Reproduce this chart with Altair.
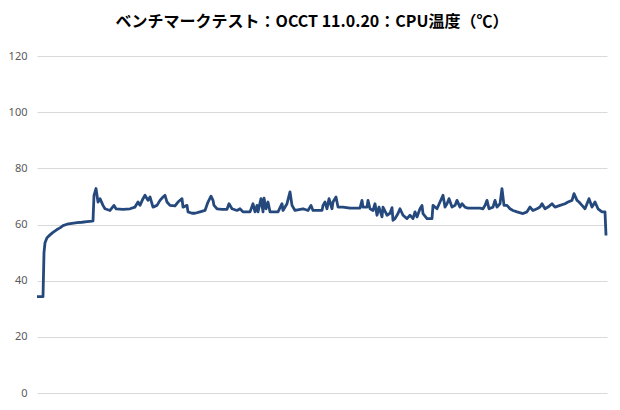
import altair as alt
import pandas as pd

# elapsed sample index and CPU temperature (°C)
sample = [0, 6, 7, 8, 10, 13, 16, 20, 23, 26, 30, 35, 40, 45, 50, 55, 56, 57, 59, 61,
          63, 66, 68, 73, 77, 79, 86, 93, 98, 101, 103, 106, 108, 111, 113, 116, 120, 123, 126, 128,
          130, 133, 138, 141, 145, 146, 150, 151, 155, 158, 163, 168, 171, 174, 176, 177, 180, 185, 190, 192,
          195, 200, 203, 206, 213, 216, 218, 220, 221, 224, 226, 227, 229, 231, 233, 241, 245, 246, 250, 253,
          255, 258, 266, 271, 274, 276, 285, 286, 288, 290, 292, 295, 296, 299, 301, 306, 313, 320, 323, 325,
          326, 330, 331, 333, 336, 338, 340, 342, 345, 346, 350, 353, 355, 356, 358, 361, 363, 366, 370, 373,
          376, 378, 380, 383, 385, 386, 390, 395, 396, 400, 403, 406, 408, 410, 412, 415, 418, 420, 423, 425,
          428, 431, 436, 443, 446, 448, 450, 452, 456, 458, 460, 463, 465, 467, 470, 473, 476, 480, 486, 490,
          493, 496, 500, 503, 505, 508, 511, 515, 518, 523, 528, 531, 535, 537, 540, 542, 545, 548, 552, 555,
          558, 561, 565, 568, 569]
temp = [34.3, 34.3, 50.0, 53.5, 55.3, 56.3, 57.2, 58.2, 58.8, 59.6, 60.1, 60.4, 60.7, 60.8, 61.0, 61.2, 61.3, 70.4, 72.8, 68.0,
        69.2, 66.8, 65.6, 65.0, 66.8, 65.6, 65.4, 65.6, 66.2, 68.0, 66.8, 69.2, 70.4, 68.6, 69.8, 66.2, 66.8, 68.6, 69.8, 70.4,
        68.0, 66.8, 66.6, 68.0, 69.2, 66.2, 66.8, 64.5, 64.0, 64.0, 64.5, 65.0, 68.0, 70.1, 68.6, 66.8, 65.6, 65.4, 65.4, 67.4,
        65.6, 65.0, 65.6, 64.5, 64.5, 67.4, 64.5, 66.8, 64.5, 69.2, 64.5, 69.4, 65.6, 68.0, 64.5, 64.5, 67.4, 65.0, 67.4, 71.6,
        66.8, 65.0, 65.6, 65.0, 66.8, 65.0, 65.0, 66.8, 68.0, 65.6, 69.2, 65.6, 68.0, 69.8, 66.2, 66.2, 65.8, 65.8, 65.8, 68.6,
        66.2, 66.2, 68.6, 65.6, 65.0, 67.4, 63.3, 66.2, 62.7, 66.2, 63.3, 64.0, 66.0, 61.5, 62.1, 63.9, 65.6, 63.3, 62.1, 63.3,
        62.1, 64.5, 62.7, 65.6, 66.8, 63.9, 62.1, 62.1, 66.8, 65.6, 68.0, 70.4, 66.2, 67.4, 69.2, 66.2, 66.8, 68.6, 66.2, 67.4,
        66.2, 65.8, 65.8, 65.8, 65.6, 66.8, 68.6, 65.6, 66.2, 68.6, 66.2, 67.4, 72.8, 66.8, 66.8, 65.6, 65.0, 64.5, 63.9, 64.5,
        66.2, 65.0, 65.6, 66.2, 67.4, 65.6, 66.2, 67.4, 66.2, 66.8, 67.4, 68.0, 68.6, 71.0, 68.6, 68.0, 66.8, 65.6, 69.2, 66.2,
        68.0, 65.6, 64.5, 64.5, 56.1]

y_ticks = [0, 20, 40, 60, 80, 100, 120]
title_text = "ベンチマークテスト：OCCT 11.0.20：CPU温度（℃）"

df = pd.DataFrame({"sample": sample, "temp": temp})

chart = alt.Chart(df).mark_line(
    color="#25497c", strokeWidth=2.8, strokeJoin="round", interpolate="linear"
).encode(
    x=alt.X("sample:Q", scale=alt.Scale(domain=[0, 570], nice=False, zero=False),
            axis=alt.Axis(labels=False, ticks=False, domain=False, grid=False, title=None)),
    y=alt.Y("temp:Q", scale=alt.Scale(domain=[0, 120], nice=False),
            axis=alt.Axis(values=y_ticks, title=None, ticks=False, domain=False,
                          gridColor="#d9d9d9", gridWidth=1,
                          labelColor="#595959", labelFontSize=11, labelPadding=10,
                          labelFont="Noto Sans")),
).properties(
    width=570,
    height=337,
    padding={"left": 29, "top": 48, "right": 3, "bottom": 8},
    autosize=alt.AutoSizeParams(type="none"),
    title=alt.TitleParams(title_text, fontSize=16, fontWeight="bold",
                          font="Noto Sans CJK JP", color="#000000",
                          anchor="middle", dx=-10, offset=20),
).configure_view(stroke=None)

chart.save("out.html", embed_options={"renderer": "svg", "actions": False})
